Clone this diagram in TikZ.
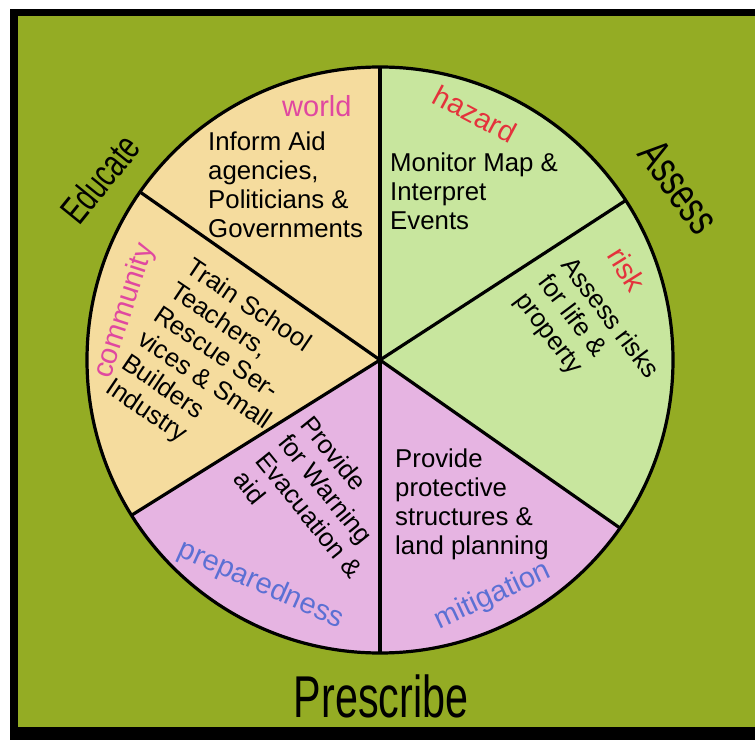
\documentclass[tikz,border=0pt]{standalone}
\usepackage{fontspec}
\setmainfont{Liberation Sans}
\newfontfamily\narrowfont[FakeStretch=0.7]{Liberation Sans}
\definecolor{bg}{RGB}{148,172,36}
\definecolor{peach}{RGB}{245,220,158}
\definecolor{greenfill}{RGB}{200,230,158}
\definecolor{pinkfill}{RGB}{230,180,226}
\definecolor{pinkt}{RGB}{224,72,160}
\definecolor{redt}{RGB}{228,50,60}
\definecolor{bluet}{RGB}{92,112,212}
\begin{document}
\begin{tikzpicture}[x=1pt,y=1pt,
  body/.style={font=\fontsize{25.8}{28.8}\selectfont, align=left, inner sep=0pt, text=black},
  lbl/.style={font=\fontsize{29}{32}\selectfont, inner sep=0pt},
  big/.style={font=\narrowfont\fontsize{#1}{#1}\selectfont, inner sep=0pt, text=black},
  spoke/.style={line width=3.2pt, black},
]
\useasboundingbox (0,0) rectangle (755,740);
\fill[white] (0,0) rectangle (755,740);
\fill[black] (9.5,0) rectangle (755,731);
\fill[bg] (18,13) rectangle (755,724);
\coordinate (C) at (380,380);
\def\R{293}
\fill[peach] (C) -- ++(90:\R) arc[start angle=90,end angle=212,radius=\R] -- cycle;
\fill[pinkfill] (C) -- ++(212:\R) arc[start angle=212,end angle=325,radius=\R] -- cycle;
\fill[greenfill] (C) -- ++(-35:\R) arc[start angle=-35,end angle=90,radius=\R] -- cycle;
\draw[spoke] (C) circle[radius=\R];
\foreach \a in {90,145,212,270,325,33} \draw[spoke] (C) -- ++(\a:\R);

\node[lbl, text=pinkt, anchor=base west] (world) at (282,623) {world};
\node[body, anchor=north west] (inform) at (208,608) {Inform Aid\\agencies,\\Politicians \&\\Governments};
\node[lbl, text=redt, rotate=-28] (hazard) at (475,626) {hazard};
\node[body, anchor=north west] (monitor) at (390,587) {Monitor Map \&\\Interpret\\Events};
\node[lbl, text=redt, rotate=-58] (risk) at (627,471) {risk};
\node[body, rotate=-53] (assess) at (586,404) {Assess risks\\for life \&\\property};
\node[body, anchor=north west, rotate=-34] (train) at (195,484) {Train School\\Teachers,\\Rescue Ser-\\vices \& Small\\Builders\\Industry};
\node[lbl, text=pinkt, rotate=72] (community) at (125,429) {community};
\node[body, anchor=north west, rotate=-51] (provide1) at (314,327) {Provide\\for Warning\\Evacuation \&\\aid};
\node[lbl, text=bluet, rotate=-24] (prep) at (261,155) {preparedness};
\node[body, anchor=north west] (provide2) at (395,291) {Provide\\protective\\structures \&\\land planning};
\node[lbl, text=bluet, rotate=25] (mitig) at (493,144) {mitigation};
\node[big=59, anchor=base] (prescribe) at (381,23) {Prescribe};
\node[big=39, rotate=51] (educate) at (100,561) {Educate};
\node[big=45, rotate=-54] (assessl) at (679,553) {Assess};
\end{tikzpicture}
\end{document}
